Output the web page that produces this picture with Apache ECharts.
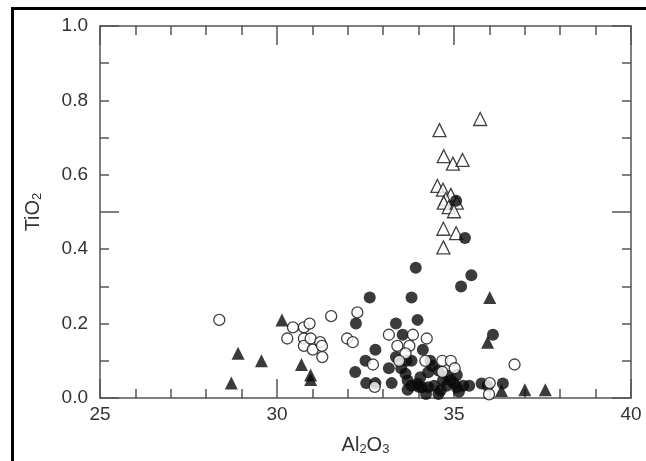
<!DOCTYPE html>
<html>
<head>
<meta charset="utf-8">
<script src="https://cdn.jsdelivr.net/npm/echarts@6/dist/echarts.min.js"></script>
<style>
html,body{margin:0;padding:0;background:#fff;}
#chart{width:646px;height:461px;}
</style>
</head>
<body>
<div id="chart"></div>
<script>
// Al2O3 (x) vs TiO2 (y)
var xTicks = [25, 30, 35, 40];
var yTicks = [0.0, 0.2, 0.4, 0.6, 0.8, 1.0];

var filledCircles = [
  [35.06,0.53],[35.31,0.43],[33.92,0.35],[35.49,0.33],[35.20,0.30],[32.62,0.27],[33.80,0.27],
  [33.97,0.21],[32.23,0.20],[33.36,0.20],[33.55,0.17],[36.10,0.17],[32.78,0.13],[34.12,0.13],
  [32.50,0.10],[33.36,0.11],[33.66,0.10],[33.80,0.10],[34.33,0.10],[32.21,0.07],[33.16,0.08],
  [33.51,0.08],[33.63,0.065],[32.52,0.04],[32.78,0.04],[33.24,0.04],[33.69,0.047],[33.80,0.033],
  [33.69,0.022],[33.97,0.038],[34.09,0.029],[34.21,0.011],[34.27,0.029],[34.44,0.033],[34.56,0.011],
  [34.56,0.074],[34.27,0.069],[34.69,0.047],[34.79,0.033],[34.91,0.047],[35.08,0.062],[35.08,0.029],
  [35.26,0.033],[35.43,0.033],[35.14,0.017],[35.78,0.039],[35.95,0.033],[36.38,0.039],[34.38,0.087],
  [34.05,0.056],[34.00,0.030],[34.62,0.020],[34.82,0.060],[35.00,0.040]
];
var openCircles = [
  [28.37,0.21],[30.29,0.16],[30.45,0.19],[30.76,0.19],[30.92,0.20],[30.76,0.16],[30.76,0.14],
  [30.95,0.16],[31.01,0.13],[31.22,0.15],[31.27,0.14],[31.28,0.11],[31.53,0.22],[31.98,0.16],
  [32.14,0.15],[32.27,0.23],[32.71,0.09],[32.76,0.03],[33.16,0.17],[33.40,0.14],[33.84,0.17],
  [33.74,0.14],[33.63,0.12],[34.23,0.16],[34.19,0.10],[34.67,0.10],[34.91,0.10],[35.02,0.08],
  [34.67,0.07],[36.01,0.04],[35.99,0.01],[36.71,0.09],[33.45,0.10]
];
var filledTriangles = [
  [28.71,0.04],[28.90,0.12],[29.56,0.10],[30.14,0.21],[30.69,0.09],[30.95,0.062],[30.95,0.05],
  [36.01,0.27],[35.95,0.15],[36.34,0.02],[37.00,0.022],[37.58,0.022]
];
var openTriangles = [
  [34.59,0.72],[35.74,0.75],[34.71,0.65],[34.97,0.63],[35.24,0.64],[34.53,0.57],[34.69,0.56],
  [34.91,0.546],[34.77,0.535],[34.71,0.525],[34.85,0.513],[35.08,0.525],[35.00,0.502],[34.70,0.455],
  [35.06,0.443],[34.70,0.405]
];

var axisColor = '#555';
var font = 'Liberation Sans, Arial, sans-serif';

var chart = echarts.init(document.getElementById('chart'), null, {renderer: 'canvas'});

function tickAxisX(pos, showLabel, name) {
  return {
    type: 'value', position: pos, min: xTicks[0], max: xTicks[xTicks.length-1],
    interval: xTicks[1]-xTicks[0],
    name: name || '', nameLocation: 'middle', nameGap: 36,
    nameTextStyle: {
      color: '#333', fontFamily: font, fontSize: 20,
      rich: {sub: {fontSize: 13, verticalAlign: 'bottom', color: '#333', fontFamily: font, padding: [9,0,0,0]}}
    },
    axisLine: {show: true, onZero: false, lineStyle: {color: axisColor, width: 1.5}},
    axisTick: {show: true, inside: true, length: 19, lineStyle: {color: axisColor, width: 1.5}},
    minorTick: {show: true, splitNumber: 5, length: 9, lineStyle: {color: axisColor, width: 1.5}},
    splitLine: {show: false}, minorSplitLine: {show: false},
    axisLabel: {show: showLabel, color: '#333', fontFamily: font, fontSize: 19, margin: 7}
  };
}

var option = {
  animation: false,
  backgroundColor: '#fff',
  grid: {left: 100, top: 26, width: 531, height: 373, containLabel: false},
  graphic: [
    {type: 'line', shape: {x1: 12.5, y1: 8.5, x2: 12.5, y2: 470}, style: {stroke: '#000', lineWidth: 3}},
    {type: 'line', shape: {x1: 11, y1: 8.5, x2: 660, y2: 8.5}, style: {stroke: '#000', lineWidth: 3}}
  ],
  xAxis: [
    tickAxisX('bottom', true, 'Al{sub|2}O{sub|3}'),
    tickAxisX('top', false, '')
  ],
  yAxis: [
    {
      type: 'value', position: 'left', min: yTicks[0], max: yTicks[yTicks.length-1],
      interval: yTicks[1]-yTicks[0],
      name: 'TiO{sub|2}', nameLocation: 'middle', nameGap: 56, nameRotate: 90,
      nameTextStyle: {
        color: '#333', fontFamily: font, fontSize: 20,
        rich: {sub: {fontSize: 13, verticalAlign: 'bottom', color: '#333', fontFamily: font, padding: [9,0,0,0]}}
      },
      axisLine: {show: true, lineStyle: {color: axisColor, width: 1.5}},
      axisTick: {show: false}, splitLine: {show: false},
      axisLabel: {color: '#333', fontFamily: font, fontSize: 19, margin: 12,
        formatter: function (v) { return v.toFixed(1); }}
    },
    {
      type: 'value', position: 'left', min: 0, max: 1, interval: 0.5,
      axisLine: {show: false},
      axisTick: {show: true, inside: true, length: 19, lineStyle: {color: axisColor, width: 1.5}},
      minorTick: {show: true, splitNumber: 5, length: 9, lineStyle: {color: axisColor, width: 1.5}},
      splitLine: {show: false}, axisLabel: {show: false}
    },
    {
      type: 'value', position: 'right', min: 0, max: 1, interval: 0.5,
      axisLine: {show: true, lineStyle: {color: axisColor, width: 1.5}},
      axisTick: {show: true, inside: true, length: 19, lineStyle: {color: axisColor, width: 1.5}},
      minorTick: {show: true, splitNumber: 5, length: 9, lineStyle: {color: axisColor, width: 1.5}},
      splitLine: {show: false}, axisLabel: {show: false}
    }
  ],
  series: [
    {type: 'scatter', name: 'open triangles', data: openTriangles, symbol: 'triangle', symbolSize: 13,
      itemStyle: {color: '#fff', borderColor: '#111', borderWidth: 1.3}, z: 2},
    {type: 'scatter', name: 'filled circles', data: filledCircles, symbol: 'circle', symbolSize: 12,
      itemStyle: {color: '#0a0a0a', borderColor: '#0a0a0a', borderWidth: 0}, z: 3},
    {type: 'scatter', name: 'open circles', data: openCircles, symbol: 'circle', symbolSize: 11,
      itemStyle: {color: '#fff', borderColor: '#111', borderWidth: 1.3}, z: 4},
    {type: 'scatter', name: 'filled triangles', data: filledTriangles, symbol: 'triangle', symbolSize: 13,
      itemStyle: {color: '#0a0a0a'}, z: 5}
  ]
};
chart.setOption(option);
</script>
</body>
</html>
